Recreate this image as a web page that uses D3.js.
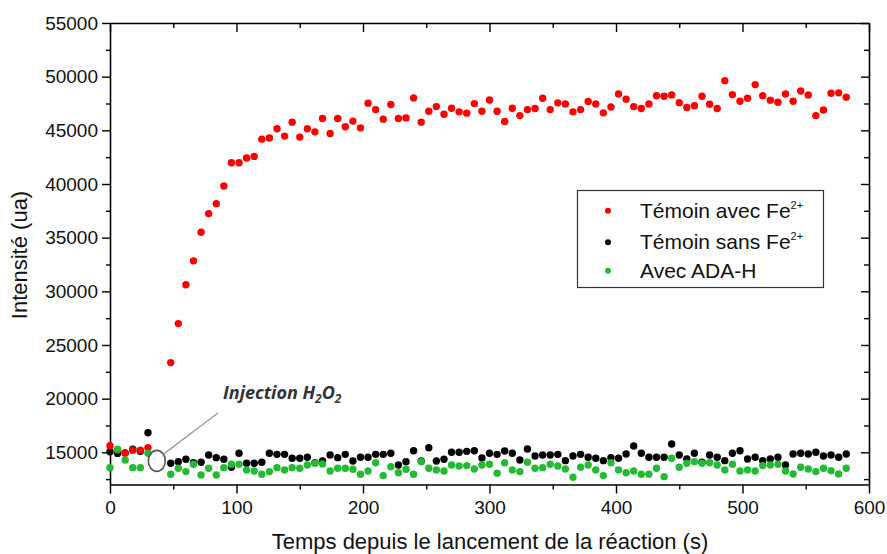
<!DOCTYPE html>
<html>
<head>
<meta charset="utf-8">
<script src="https://cdn.jsdelivr.net/npm/d3@7"></script>
<style>
  html, body { margin: 0; padding: 0; background: #fff; }
  svg { display: block; }
  text { font-family: "Liberation Sans", Arial, sans-serif; }
</style>
</head>
<body>
<svg id="chart" width="887" height="554"></svg>
<script>
// ---- Data ----
const timePre = [0, 6, 12, 18, 24, 30];
const timePost = [48, 54, 60, 66, 72, 78, 84, 90, 96, 102, 108, 114, 120, 126, 132, 138, 144, 150,
  156, 162, 168, 174, 180, 186, 192, 198, 204, 210, 216, 222, 228, 234, 240, 246, 252, 258, 264,
  270, 276, 282, 288, 294, 300, 306, 312, 318, 324, 330, 336, 342, 348, 354, 360, 366, 372, 378,
  384, 390, 396, 402, 408, 414, 420, 426, 432, 438, 444, 450, 456, 462, 468, 474, 480, 486, 492,
  498, 504, 510, 516, 522, 528, 534, 540, 546, 552, 558, 564, 570, 576, 582];

const redPre = [15610, 15200, 14910, 15190, 15190, 15430];
const redPost = [23360, 26990, 30610, 32840, 35500, 37240, 38170, 39810, 41980, 41980, 42420, 42570,
  44180, 44280, 45140, 44460, 45760, 44370, 45140, 44860, 46100, 44700, 46100, 45330, 45860, 45230,
  47530, 46930, 46040, 47400, 46100, 46160, 48020, 45760, 46780, 47210, 46500, 47060, 46720, 46600,
  47490, 46780, 47830, 46780, 45820, 47060, 46370, 46930, 47030, 47990, 46930, 47560, 47460, 46720,
  46930, 47680, 47460, 46630, 47180, 48390, 47900, 47210, 47030, 47460, 48230, 48180, 48300, 47580,
  47120, 47300, 48180, 47430, 47030, 49630, 48330, 47710, 47990, 49260, 48230, 47810, 47620, 48390,
  47710, 48670, 48300, 46370, 46900, 48460, 48490, 48090];

const blackPre = [15050, 14900, 14950, 15300, 15100, 16820];
const blackPost = [13980, 14130, 14350, 14030, 14070, 14750, 14500, 14350, 13610, 14910, 13980, 13980,
  14070, 14910, 14810, 14810, 14440, 14440, 14540, 14030, 14190, 14750, 14500, 14810, 14190, 14540,
  14540, 14810, 14810, 14910, 13820, 14130, 15150, 14190, 15430, 14190, 14350, 15000, 15000, 15090,
  15150, 14470, 14910, 14810, 15120, 14910, 14280, 15310, 14660, 14750, 14750, 14810, 14220, 14660,
  14810, 14540, 14440, 14220, 14500, 14440, 14840, 15590, 14910, 14540, 14540, 14540, 15770, 14750,
  14380, 14910, 14070, 14750, 14540, 14220, 14910, 15150, 14380, 14540, 14220, 14380, 14540, 13820,
  14840, 14910, 14840, 15000, 14660, 14750, 14540, 14840];

const greenPre = [13570, 15280, 14280, 13570, 13570, 14910];
const greenPost = [12950, 13510, 13200, 13880, 12890, 13510, 12890, 13570, 13880, 13880, 13360, 13260,
  12950, 13200, 13570, 13360, 13570, 13510, 13820, 13980, 13910, 13260, 13510, 13510, 13420, 12950,
  13260, 14030, 12830, 13660, 13100, 13420, 12950, 14130, 13510, 13360, 13260, 13820, 13730, 13760,
  13450, 13820, 13880, 13050, 14030, 13360, 13200, 14070, 13510, 13570, 13880, 13730, 13450, 12680,
  13610, 13820, 13360, 12830, 14030, 13360, 13100, 13260, 12950, 12950, 13510, 12730, 14440, 13610,
  13980, 14130, 13980, 14030, 13820, 13360, 13880, 13260, 13360, 13260, 13760, 13820, 13880, 13260,
  12980, 13610, 13450, 13200, 13510, 13290, 12980, 13510];

const seriesNames = ["Témoin avec Fe", "Témoin sans Fe", "Avec ADA-H"];
const seriesSup = ["2+", "2+", ""];
const seriesColors = ["#ff0000", "#000000", "#22bb33"];

const xTicks = [0, 100, 200, 300, 400, 500, 600];
const yTicks = [15000, 20000, 25000, 30000, 35000, 40000, 45000, 50000, 55000];
const xDomain = [0, 600];
const yDomain = [12000, 55000];
const xTitle = "Temps depuis le lancement de la réaction (s)";
const yTitle = "Intensité (ua)";
const annotation = { t: 37, v: 14200, label: "Injection H", sub1: "2", mid: "O", sub2: "2" };

// ---- Layout ----
const svg = d3.select("#chart");
const pLeft = 110, pRight = 869, pTop = 23, pBottom = 484.5;
const x = d3.scaleLinear().domain(xDomain).range([pLeft, pRight]);
const y = d3.scaleLinear().domain(yDomain).range([pBottom, pTop]);

const FONT = 19;

// minor ticks
const xMinor = d3.range(xDomain[0], xDomain[1] + 1, 50).filter(v => v % 100 !== 0);
const yMinor = d3.range(12500, 55001, 5000);

function styleAxis(g) {
  g.selectAll("path.domain").attr("stroke", "#000").attr("stroke-width", 1.6);
  g.selectAll(".tick line").attr("stroke", "#000").attr("stroke-width", 1.4);
  g.selectAll("text").attr("fill", "#111").style("font-size", FONT + "px")
    .style("font-family", '"Liberation Sans", Arial, sans-serif');
}

// bottom axis
const gB = svg.append("g").attr("transform", `translate(0,${pBottom})`)
  .call(d3.axisBottom(x).tickValues(xTicks).tickSize(9).tickPadding(7).tickSizeOuter(0).tickFormat(d3.format("d")));
styleAxis(gB);
svg.append("g").attr("transform", `translate(0,${pBottom})`)
  .call(d3.axisBottom(x).tickValues(xMinor).tickSize(5).tickFormat("").tickSizeOuter(0))
  .call(g => { g.select("path.domain").remove(); styleAxis(g); });

// top axis (inward ticks)
const gT = svg.append("g").attr("transform", `translate(0,${pTop})`)
  .call(d3.axisBottom(x).tickValues(xTicks).tickSize(9).tickFormat("").tickSizeOuter(0));
styleAxis(gT);
svg.append("g").attr("transform", `translate(0,${pTop})`)
  .call(d3.axisBottom(x).tickValues(xMinor).tickSize(5).tickFormat("").tickSizeOuter(0))
  .call(g => { g.select("path.domain").remove(); styleAxis(g); });

// left axis
const gL = svg.append("g").attr("transform", `translate(${pLeft},0)`)
  .call(d3.axisLeft(y).tickValues(yTicks).tickSize(8).tickPadding(4).tickSizeOuter(0).tickFormat(d3.format("d")));
styleAxis(gL);
svg.append("g").attr("transform", `translate(${pLeft},0)`)
  .call(d3.axisLeft(y).tickValues(yMinor).tickSize(4).tickFormat("").tickSizeOuter(0))
  .call(g => { g.select("path.domain").remove(); styleAxis(g); });

// right axis (inward ticks)
const gR = svg.append("g").attr("transform", `translate(${pRight},0)`)
  .call(d3.axisLeft(y).tickValues(yTicks).tickSize(8).tickFormat("").tickSizeOuter(0));
styleAxis(gR);
svg.append("g").attr("transform", `translate(${pRight},0)`)
  .call(d3.axisLeft(y).tickValues(yMinor).tickSize(5).tickFormat("").tickSizeOuter(0))
  .call(g => { g.select("path.domain").remove(); styleAxis(g); });

// axis titles
svg.append("text").attr("x", 490).attr("y", 549).attr("text-anchor", "middle")
  .style("font-size", "22px").attr("fill", "#111").text(xTitle);
svg.append("text").attr("transform", `translate(27,255) rotate(-90)`).attr("text-anchor", "middle")
  .style("font-size", "22px").attr("fill", "#111").text(yTitle);

// ---- Data points ----
const R = 3.7;
function drawSeries(times, vals, color) {
  svg.append("g").selectAll("circle").data(times.map((t, i) => [t, vals[i]])).join("circle")
    .attr("cx", d => x(d[0])).attr("cy", d => y(d[1])).attr("r", R).attr("fill", color);
}
drawSeries(timePre.concat(timePost), blackPre.concat(blackPost), seriesColors[1]);
drawSeries(timePre.concat(timePost), redPre.concat(redPost), seriesColors[0]);
drawSeries(timePre.concat(timePost), greenPre.concat(greenPost), seriesColors[2]);

// ---- Annotation ----
const ax = x(annotation.t), ay = y(annotation.v);
svg.append("line").attr("x1", ax + 7).attr("y1", ay - 7).attr("x2", 218).attr("y2", 413)
  .attr("stroke", "#9a9a9a").attr("stroke-width", 1.3);
svg.append("ellipse").attr("cx", ax).attr("cy", ay).attr("rx", 8.5).attr("ry", 10.5)
  .attr("fill", "none").attr("stroke", "#555").attr("stroke-width", 1.6);
const at = svg.append("text").attr("x", 223).attr("y", 399)
  .style("font-size", "18px").style("font-weight", "bold").style("font-style", "italic")
  .style("font-family", '"Open Sans", "Liberation Sans", sans-serif').attr("fill", "#333");
at.append("tspan").text(annotation.label);
at.append("tspan").attr("dy", 4).style("font-size", "12px").text(annotation.sub1);
at.append("tspan").attr("dy", -4).text(annotation.mid);
at.append("tspan").attr("dy", 4).style("font-size", "12px").text(annotation.sub2);

// ---- Legend ----
const lg = svg.append("g");
lg.append("rect").attr("x", 577.5).attr("y", 190.5).attr("width", 246).attr("height", 97)
  .attr("fill", "#fff").attr("stroke", "#333").attr("stroke-width", 1.2);
const rowY = [210.7, 242.3, 270.7];
seriesNames.forEach((name, i) => {
  lg.append("circle").attr("cx", 608).attr("cy", rowY[i]).attr("r", 3).attr("fill", seriesColors[i]);
  const t = lg.append("text").attr("x", 640).attr("y", rowY[i] + 7)
    .style("font-size", "21px").attr("fill", "#111");
  t.append("tspan").text(name);
  if (seriesSup[i]) t.append("tspan").attr("dy", -9).style("font-size", "11px").text(seriesSup[i]);
});
</script>
</body>
</html>
